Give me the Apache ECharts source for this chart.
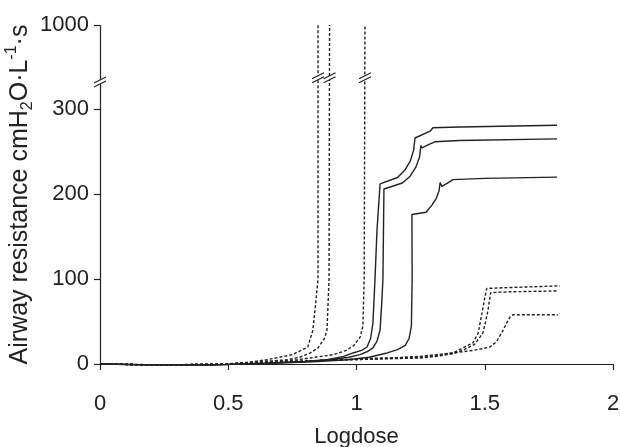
<!DOCTYPE html>
<html>
<head>
<meta charset="utf-8">
<script src="https://cdn.jsdelivr.net/npm/echarts@6/dist/echarts.min.js"></script>
<style>
html, body { margin: 0; padding: 0; background: #fff; }
#chart { width: 620px; height: 447px; }
</style>
</head>
<body>
<div id="chart"></div>
<script>
// axis ticks
const xTicks = [0, 0.5, 1, 1.5, 2]
const yTicks = [0, 100, 200, 300, 1000]

// dashed curves that shoot up past the break
const dashedA = [[0, 0], [0.2, -1], [0.4, -1], [0.55, 1], [0.65, 5], [0.75, 11], [0.81, 20], [0.83, 40], [0.842, 75], [0.85, 100], [0.85, 1000]]
const dashedB = [[0, 0], [0.2, -1], [0.45, -0.5], [0.6, 2], [0.73, 5], [0.78, 8], [0.82, 13], [0.85, 19], [0.875, 30], [0.885, 40], [0.893, 100], [0.895, 1000]]
const dashedC = [[0, 0], [0.25, -1], [0.5, 0], [0.77, 5], [0.91, 11], [0.96, 16], [0.99, 22], [1.015, 32], [1.025, 45], [1.03, 100], [1.033, 1000]]

// solid curves
const solid1 = [[0, 0], [0.2, -1], [0.45, -1], [0.65, 1], [0.8, 3], [0.885, 5], [0.95, 9], [0.986, 13], [1.02, 16], [1.041, 20], [1.055, 30], [1.064, 48], [1.072, 99], [1.08, 158], [1.092, 212], [1.16, 219.5], [1.188, 228], [1.21, 239], [1.223, 252], [1.228, 266], [1.232, 265], [1.287, 274], [1.298, 278], [1.4, 279], [1.782, 281]]
const solid2 = [[0, 0], [0.2, -1], [0.45, -1], [0.65, 1], [0.8, 3], [0.9, 5], [0.97, 8], [1.014, 11], [1.045, 15], [1.064, 19], [1.08, 27], [1.092, 40], [1.099, 75], [1.103, 100], [1.107, 206], [1.179, 213], [1.209, 221], [1.232, 232], [1.246, 244], [1.251, 257], [1.255, 254.5], [1.287, 259], [1.306, 261.5], [1.4, 263], [1.782, 265]]
const solid3 = [[0, 0], [0.2, -1], [0.45, -1], [0.7, 1], [0.85, 3], [0.963, 5], [1.05, 8], [1.119, 13], [1.16, 17], [1.19, 22], [1.205, 30], [1.214, 45], [1.217, 100], [1.216, 176], [1.271, 178.6], [1.294, 187], [1.311, 195], [1.322, 204], [1.326, 213.6], [1.333, 209], [1.353, 212.5], [1.376, 217], [1.5, 218.5], [1.782, 220]]

// dashed curves with low plateaus
const dashedD = [[0, 0], [0.2, -1], [0.45, -0.5], [0.65, 2], [0.85, 4], [1.09, 7], [1.248, 8], [1.314, 10], [1.376, 13], [1.415, 19], [1.454, 25], [1.474, 36], [1.488, 58], [1.5, 78], [1.508, 89], [1.6, 90], [1.793, 92]]
const dashedE = [[0, 0], [0.2, -1], [0.45, -0.5], [0.65, 2], [0.85, 4], [1.09, 6], [1.248, 7], [1.314, 9], [1.376, 12], [1.42, 17], [1.46, 23], [1.482, 32], [1.493, 37], [1.505, 52], [1.513, 64], [1.523, 84], [1.6, 85], [1.785, 86]]
const dashedF = [[0, 0], [0.2, -1], [0.45, -0.5], [0.65, 2], [0.85, 4], [1.09, 6], [1.248, 9], [1.376, 13], [1.454, 16], [1.49, 18], [1.52, 20], [1.545, 26], [1.567, 37], [1.585, 48], [1.6, 56], [1.61, 58], [1.785, 58]]

// where the "//" break marks sit
const breakMarks = [[0, 332], [0.85, 938], [0.895, 938], [1.033, 938]]

const font = "'Liberation Sans', Arial, sans-serif"
const ink = '#222'

const chart = echarts.init(document.getElementById('chart'))

function curve(data, dashed) {
  return {
    type: 'line',
    data: data,
    symbol: 'none',
    silent: true,
    clip: false,
    lineStyle: {
      color: ink,
      width: 1.4,
      type: dashed ? [3, 2] : 'solid'
    }
  }
}

chart.setOption({
  animation: false,
  grid: {
    left: 100,
    right: 7,
    top: 25,
    bottom: 83,
    outerBoundsMode: 'none'
  },
  xAxis: {
    type: 'value',
    min: 0,
    max: 2,
    interval: 0.5,
    offset: 14,
    name: 'Logdose',
    nameLocation: 'middle',
    nameGap: 48,
    nameTextStyle: { fontSize: 22, color: ink, fontFamily: font },
    axisLine: { lineStyle: { color: ink, width: 1.2 } },
    axisTick: { length: 6, lineStyle: { color: ink, width: 1.2 }, customValues: xTicks },
    axisLabel: { fontSize: 22, color: ink, fontFamily: font, margin: 15, customValues: xTicks },
    splitLine: { show: false }
  },
  yAxis: {
    type: 'value',
    min: 0,
    max: 1000,
    breaks: [{ start: 332, end: 933, gap: 0 }],
    breakArea: { show: false, itemStyle: { opacity: 0 } },
    name: '{t|Airway resistance cmH}{s|2}{t|O·L}{p|-1}{t|·s}',
    nameLocation: 'middle',
    nameRotate: 90,
    nameGap: 64,
    nameMoveOverlap: false,
    nameTextStyle: {
      rich: {
        t: { fontSize: 25, color: ink, fontFamily: font, lineHeight: 32 },
        s: { fontSize: 16, color: ink, fontFamily: font, lineHeight: 18, verticalAlign: 'bottom' },
        p: { fontSize: 16, color: ink, fontFamily: font, lineHeight: 18, verticalAlign: 'top' }
      }
    },
    axisLine: { show: true, lineStyle: { color: ink, width: 1.2 } },
    axisTick: { show: true, length: 6, lineStyle: { color: ink, width: 1.2 }, customValues: yTicks },
    axisLabel: {
      fontSize: 22,
      color: ink,
      fontFamily: font,
      margin: 11,
      customValues: yTicks,
      formatter: function (v) { return String(v) }
    },
    splitLine: { show: false }
  },
  series: [
    curve(dashedA, true),
    curve(dashedB, true),
    curve(dashedC, true),
    curve(solid1, false),
    curve(solid2, false),
    curve(solid3, false),
    curve(dashedD, true),
    curve(dashedE, true),
    curve(dashedF, true),
    {
      type: 'custom',
      data: breakMarks,
      clip: false,
      silent: true,
      z: 10,
      renderItem: function (params, api) {
        const p = api.coord([api.value(0), api.value(1)])
        return {
          type: 'group',
          x: p[0],
          y: p[1],
          children: [
            { type: 'polygon', shape: { points: [[-6, 1], [6, -5], [6, -1], [-6, 5]] }, style: { fill: '#fff' } },
            { type: 'line', shape: { x1: -6, y1: 1, x2: 6, y2: -5 }, style: { stroke: ink, lineWidth: 1.2 } },
            { type: 'line', shape: { x1: -6, y1: 5, x2: 6, y2: -1 }, style: { stroke: ink, lineWidth: 1.2 } }
          ]
        }
      }
    }
  ]
})
</script>
</body>
</html>
